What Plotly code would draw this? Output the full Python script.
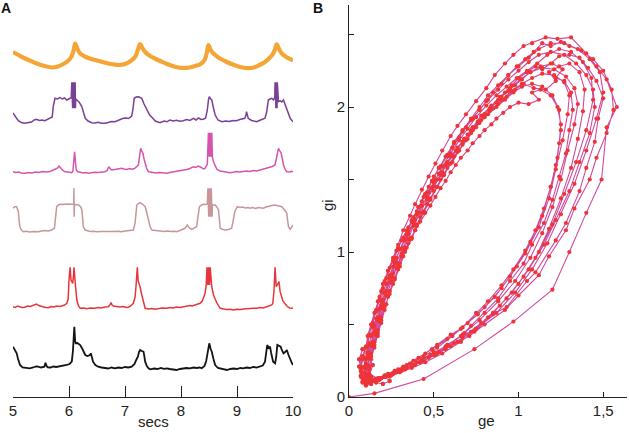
import plotly.graph_objects as go

# ---------------- Panel A: time series (seconds, arbitrary units above baseline) ----------------
t_orange = [5.00, 5.10, 5.20, 5.30, 5.40, 5.50, 5.60, 5.70, 5.80, 5.90, 5.98, 6.04, 6.08, 6.11, 6.15, 6.20, 6.30, 6.40,
            6.50, 6.60, 6.70, 6.80, 6.90, 7.00, 7.10, 7.18, 7.23, 7.27, 7.31, 7.36, 7.45, 7.55, 7.65, 7.75, 7.85, 7.95,
            8.05, 8.15, 8.25, 8.35, 8.42, 8.46, 8.49, 8.53, 8.58, 8.68, 8.80, 8.90, 9.00, 9.10, 9.20, 9.30, 9.40, 9.50,
            9.58, 9.64, 9.68, 9.71, 9.75, 9.80, 9.88, 9.95, 10.0]
v_orange = [17, 14, 11, 8.5, 6, 4, 2.5, 1.5, 2.5, 5, 8, 12, 18, 25.5, 20, 15.5, 12, 10,
            8.5, 7, 5.5, 4.5, 4, 5, 8, 12, 19, 25, 21, 17, 13, 10, 7.5, 5, 3, 1.5,
            1, 1.5, 3, 5, 9, 16, 24, 19, 15.5, 11, 7.5, 5, 3, 1.5, 0.8, 1.5, 4, 7,
            11, 15, 20, 24.7, 20, 15.5, 12, 10, 8.5]

t_purple = [5.00, 5.03, 5.06, 5.10, 5.15, 5.21, 5.27, 5.33, 5.38, 5.42, 5.47, 5.52, 5.57, 5.62, 5.66, 5.70, 5.72, 5.75,
            5.79, 5.84, 5.88, 5.92, 5.96, 6.00, 6.04, 6.05, 6.055, 6.06, 6.065, 6.07, 6.075, 6.08, 6.085, 6.09, 6.095,
            6.10, 6.105, 6.11, 6.115, 6.12, 6.14, 6.18, 6.23, 6.27, 6.29, 6.34, 6.405, 6.46, 6.52, 6.58, 6.64, 6.70,
            6.76, 6.82, 6.88, 6.93, 6.97, 7.02, 7.06, 7.09, 7.12, 7.14, 7.165, 7.20, 7.24, 7.27, 7.30, 7.34, 7.39,
            7.44, 7.48, 7.54, 7.60, 7.625, 7.70, 7.75, 7.80, 7.86, 7.92, 7.98, 8.04, 8.10, 8.16, 8.22, 8.27, 8.31,
            8.36, 8.40, 8.44, 8.47, 8.49, 8.505, 8.53, 8.55, 8.58, 8.61, 8.66, 8.73, 8.80, 8.86, 8.93, 8.99, 9.05,
            9.10, 9.14, 9.16, 9.17, 9.185, 9.20, 9.26, 9.30, 9.35, 9.40, 9.45, 9.50, 9.53, 9.56, 9.59, 9.62, 9.65,
            9.675, 9.68, 9.685, 9.69, 9.695, 9.70, 9.705, 9.71, 9.715, 9.72, 9.74, 9.77, 9.80, 9.83, 9.86, 9.89,
            9.92, 9.95, 9.98, 10.0]
v_purple = [11, 9, 6, 3, 1.5, 0.7, 1.5, 2, 4, 4.7, 3.5, 4, 3.3, 5, 6.5, 7, 18, 25.7,
            25, 26.5, 25, 26, 24, 25.5, 26.3, 41.7, 15.7, 41.7, 15.7, 41.7, 15.7, 41.7, 15.7, 41.7, 15.7,
            41.7, 15.7, 41.7, 15.7, 25, 24, 22, 17.3, 10, 5.7, 3, 1.3, 1, 1.8, 0.7, 0.7, 1.5,
            2.5, 2.3, 3.5, 5, 5.7, 6, 5.5, 6.7, 8, 14, 25.7, 27, 27.3, 26.5, 25.7, 20, 14,
            9, 6.7, 3, 1.8, 1.3, 3, 2.2, 4, 3, 3.8, 2.8, 3.3, 4.5, 3.5, 5.7, 4, 6,
            4.5, 4.7, 6, 14, 24, 27.3, 25, 24, 16, 9, 4, 2.3, 3, 2.5, 3.5, 3.3, 4.5,
            4.8, 5.7, 9, 12.3, 9, 5.7, 3.5, 2.8, 2.3, 3.5, 4.5, 5.7, 12, 24, 25, 25.7, 24,
            27, 41.7, 15.7, 41.7, 15.7, 41.7, 15.7, 41.7, 15.7, 41.7, 22, 23.3, 22, 24, 19, 14,
            9, 5.7, 3.5, 2.3]

t_pink = [5.00, 5.05, 5.10, 5.15, 5.21, 5.28, 5.34, 5.40, 5.46, 5.52, 5.57, 5.62, 5.68, 5.75, 5.80, 5.82, 5.85, 5.87,
          5.92, 5.97, 6.02, 6.05, 6.07, 6.085, 6.10, 6.115, 6.13, 6.155, 6.20, 6.26, 6.30, 6.345, 6.40, 6.46, 6.52,
          6.58, 6.64, 6.68, 6.71, 6.74, 6.76, 6.82, 6.88, 6.94, 6.98, 7.03, 7.08, 7.12, 7.17, 7.21, 7.24, 7.26, 7.28,
          7.30, 7.32, 7.34, 7.36, 7.39, 7.42, 7.48, 7.55, 7.62, 7.68, 7.745, 7.80, 7.86, 7.92, 7.98, 8.04, 8.10,
          8.16, 8.22, 8.26, 8.31, 8.36, 8.40, 8.43, 8.47, 8.49, 8.495, 8.50, 8.505, 8.51, 8.515, 8.52, 8.525, 8.53,
          8.535, 8.54, 8.545, 8.55, 8.555, 8.56, 8.58, 8.61, 8.64, 8.70, 8.76, 8.82, 8.875, 8.93, 8.99, 9.05, 9.11,
          9.17, 9.23, 9.29, 9.35, 9.41, 9.47, 9.53, 9.58, 9.63, 9.68, 9.71, 9.74, 9.765, 9.79, 9.81, 9.83, 9.86,
          9.89, 9.94, 9.97, 10.0]
v_pink = [2.3, 1.5, 2, 1, 0.7, 1.5, 1, 2, 1.5, 2.5, 2.3, 2, 3, 4.7, 6, 8, 6, 4.7,
          2.5, 2, 1.5, 1.3, 3, 12, 22.3, 12, 4, 2.3, 1.5, 1, 1.5, 0.7, 1.2, 1.8, 1.5,
          2, 2.3, 3.5, 7.3, 5, 4, 4.5, 5, 5.7, 5, 4.5, 5.5, 4.7, 5.5, 7, 9, 18, 25.7,
          23, 20.7, 15, 10.7, 5, 2.3, 1.5, 1, 1.5, 1, 0.7, 1.5, 2, 2.5, 2.8, 3.3, 4.5,
          5.5, 7.3, 6.5, 8, 6.5, 5, 5.7, 10, 41.3, 17.3, 41.3, 17.3, 41.3, 17.3, 41.3, 17.3, 41.3,
          17.3, 41.3, 17.3, 41.3, 17.3, 17, 12.3, 8, 4.7, 3, 2.2, 1.5, 1.3, 1.8, 2.5, 2, 2.3,
          3, 2.5, 3.5, 3, 4, 4.5, 5.7, 6.5, 7.5, 9, 16, 25.7, 23, 20.7, 15, 9, 4.5,
          2.3, 2, 2.8, 2.3]

t_rosy = [5.00, 5.03, 5.066, 5.095, 5.11, 5.125, 5.15, 5.18, 5.24, 5.30, 5.36, 5.42, 5.45, 5.51, 5.57, 5.63, 5.69, 5.74,
          5.76, 5.78, 5.81, 5.84, 5.90, 5.96, 6.02, 6.06, 6.085, 6.088, 6.092, 6.096, 6.13, 6.17, 6.21, 6.23, 6.245,
          6.255, 6.29, 6.32, 6.38, 6.44, 6.50, 6.56, 6.64, 6.70, 6.76, 6.82, 6.88, 6.94, 7.00, 7.06, 7.12, 7.15,
          7.18, 7.21, 7.24, 7.27, 7.31, 7.36, 7.39, 7.42, 7.45, 7.48, 7.55, 7.625, 7.70, 7.76, 7.82, 7.88, 7.92,
          7.98, 8.03, 8.07, 8.11, 8.15, 8.19, 8.24, 8.28, 8.30, 8.33, 8.37, 8.40, 8.44, 8.47, 8.48, 8.485, 8.49,
          8.495, 8.50, 8.505, 8.51, 8.515, 8.52, 8.525, 8.53, 8.535, 8.54, 8.545, 8.55, 8.555, 8.56, 8.61, 8.64,
          8.67, 8.685, 8.70, 8.75, 8.79, 8.85, 8.905, 8.93, 8.96, 9.005, 9.05, 9.10, 9.15, 9.20, 9.23, 9.28, 9.33,
          9.38, 9.42, 9.47, 9.52, 9.57, 9.62, 9.68, 9.74, 9.80, 9.85, 9.89, 9.905, 9.92, 9.95, 9.97, 10.0]
v_rosy = [24.7, 26.3, 26.3, 21.3, 12, 6.3, 3, 1.3, 1.8, 1, 1.5, 1.2, 1.3, 2, 2.5, 2, 3, 5,
          15, 26.3, 28, 28.7, 28.5, 29, 28.7, 28.5, 28.7, 44.7, 16.3, 28, 28.5, 28, 26, 23, 14,
          6.3, 3, 2.3, 1.5, 1.8, 1.2, 1.5, 1.3, 1.8, 1.2, 1.5, 1.8, 1.3, 2, 2.5, 2.8, 3,
          10, 28, 29.5, 30.3, 29, 26.3, 20, 13, 6, 3, 2.5, 2.3, 1.5, 2, 1.5, 1.8, 1.3,
          2.5, 3.5, 4.7, 8, 5, 3.7, 5, 6.3, 15, 26.3, 28, 28.7, 28.5, 29, 44.7, 16.3, 44.7,
          16.3, 44.7, 16.3, 44.7, 16.3, 44.7, 16.3, 44.7, 16.3, 44.7, 16.3, 44.7, 16.3, 28, 28, 26,
          23, 14, 4.7, 3.5, 3, 3.5, 4.7, 12, 21.3, 26.3, 25.5, 26, 25, 25.5, 24.7, 25.5, 24.5,
          25.5, 25, 24.7, 26, 27, 27.5, 28, 27, 26.3, 23, 19.7, 12, 6.3, 3.7, 5, 8]

t_red = [5.00, 5.04, 5.08, 5.12, 5.16, 5.21, 5.26, 5.31, 5.36, 5.42, 5.46, 5.50, 5.55, 5.59, 5.63, 5.68, 5.73, 5.78,
         5.83, 5.87, 5.92, 5.96, 5.985, 6.00, 6.02, 6.036, 6.05, 6.066, 6.08, 6.09, 6.107, 6.12, 6.14, 6.17, 6.20,
         6.26, 6.32, 6.38, 6.46, 6.52, 6.58, 6.64, 6.70, 6.73, 6.75, 6.77, 6.79, 6.85, 6.91, 6.97, 7.02, 7.06,
         7.10, 7.15, 7.18, 7.196, 7.22, 7.235, 7.25, 7.27, 7.30, 7.33, 7.36, 7.42, 7.48, 7.54, 7.60, 7.66, 7.745,
         7.80, 7.86, 7.92, 7.98, 8.04, 8.10, 8.16, 8.20, 8.25, 8.30, 8.34, 8.38, 8.43, 8.45, 8.455, 8.46, 8.465,
         8.47, 8.475, 8.48, 8.485, 8.49, 8.495, 8.50, 8.505, 8.51, 8.52, 8.55, 8.58, 8.64, 8.70, 8.76, 8.82, 8.88,
         8.94, 9.00, 9.06, 9.12, 9.18, 9.23, 9.29, 9.35, 9.41, 9.47, 9.52, 9.56, 9.59, 9.62, 9.64, 9.66, 9.68,
         9.70, 9.73, 9.75, 9.77, 9.82, 9.89, 9.94, 10.0]
v_red = [4.3, 3.5, 5, 4, 3.5, 3.7, 5, 4.5, 6, 7, 5.5, 4.5, 4, 3.5, 3.3, 4.5, 4, 5,
         4.5, 5, 6, 7.7, 12, 31, 43.7, 31, 29, 27.7, 35, 43.7, 31, 22, 11, 5, 2.7,
         3, 2.2, 3, 2.7, 3.5, 3, 4, 4.3, 6, 8.3, 6, 5, 4.5, 4, 4.5, 3.5, 3.7,
         5, 7.7, 14, 24.3, 43.7, 30, 27.7, 24, 16, 8, 2.7, 2, 2.5, 1.7, 2.5, 3, 2.7,
         3.5, 3, 4, 3.5, 4.3, 4.5, 5.5, 5, 6, 7, 7.7, 10, 17.7, 26, 43.7, 26, 43.7,
         26, 43.7, 26, 43.7, 26, 43.7, 26, 43.7, 26, 43.7, 24, 16, 8, 2.7, 2, 1.5, 1.8, 1, 1.8,
         1.5, 2, 2.5, 2.2, 2.8, 2.7, 3.5, 3, 4, 4.3, 5, 6, 7.7, 20, 43.7, 24.3, 27,
         29.3, 19.3, 10, 5, 3, 2.7, 3.5, 3.7]

t_black = [5.00, 5.03, 5.066, 5.09, 5.125, 5.17, 5.22, 5.30, 5.36, 5.41, 5.45, 5.50, 5.56, 5.58, 5.60, 5.62, 5.67, 5.72,
           5.77, 5.81, 5.86, 5.91, 5.96, 6.01, 6.05, 6.07, 6.08, 6.095, 6.11, 6.12, 6.15, 6.20, 6.24, 6.27, 6.29,
           6.33, 6.375, 6.39, 6.41, 6.43, 6.47, 6.52, 6.58, 6.64, 6.70, 6.76, 6.82, 6.88, 6.94, 7.00, 7.06, 7.12,
           7.17, 7.20, 7.23, 7.25, 7.27, 7.30, 7.33, 7.345, 7.36, 7.39, 7.42, 7.45, 7.52, 7.58, 7.64, 7.70, 7.745,
           7.80, 7.86, 7.92, 7.98, 8.04, 8.10, 8.16, 8.22, 8.28, 8.33, 8.37, 8.42, 8.45, 8.47, 8.49, 8.505, 8.53,
           8.55, 8.58, 8.61, 8.66, 8.72, 8.77, 8.82, 8.88, 8.94, 9.00, 9.06, 9.11, 9.17, 9.23, 9.29, 9.35, 9.41,
           9.46, 9.50, 9.52, 9.54, 9.565, 9.59, 9.61, 9.63, 9.645, 9.68, 9.70, 9.72, 9.75, 9.78, 9.80, 9.83, 9.86,
           9.89, 9.92, 9.95, 9.98, 10.0]
v_black = [24.3, 21, 17.7, 12, 6, 3.5, 3, 2.7, 3.5, 4.5, 4.3, 3.5, 4.3, 8.3, 5, 3.7, 3.5, 4.5,
           4, 4.3, 5, 5.5, 6, 7, 9.3, 20, 27.7, 44.3, 30, 27.7, 28, 26, 22, 17, 16,
           15, 16, 17.7, 13, 9.3, 6, 4.3, 3.5, 3, 2.5, 3.5, 2.7, 3.5, 3, 4, 3.5, 4.3,
           7, 11, 14.3, 19, 21, 20, 19.3, 15, 9.3, 5, 2.7, 1.7, 2.5, 2, 3, 2.2, 2.7,
           2, 1.5, 1, 2, 2.5, 3, 2.7, 3.5, 3, 3.5, 2.7, 5, 10, 16, 24, 27.7, 22,
           19.3, 12, 6, 3, 2, 1.5, 1, 2, 2.5, 2, 3, 2.7, 3.5, 3, 4, 3.5, 4.3,
           5.5, 9.3, 18, 26, 23, 24.3, 18, 10, 9.3, 7.7, 14, 26, 25, 24.3, 21, 17.7, 19,
           21, 16, 11, 8, 6]

time_ticks = [5, 6, 7, 8, 9, 10]

# ---------------- Panel B: phase plot (ge, gi), one list pair per cycle ----------------
ge_c1 = [0.00, 0.15, 0.44, 0.74, 0.97, 1.20, 1.30, 1.40, 1.49, 1.52, 1.58, 1.52, 1.46, 1.40, 1.31, 1.23, 1.16, 1.08,
         1.03, 0.97, 0.92, 0.86, 0.81, 0.75, 0.69, 0.64, 0.60, 0.55, 0.51, 0.47, 0.43, 0.39, 0.36, 0.32, 0.29, 0.26,
         0.23, 0.20, 0.18, 0.16, 0.14, 0.12, 0.10, 0.08, 0.07, 0.07, 0.08, 0.10]
gi_c1 = [0.00, 0.025, 0.124, 0.33, 0.52, 0.74, 1.00, 1.27, 1.50, 1.86, 2.00, 2.19, 2.28, 2.37, 2.48, 2.47, 2.48, 2.44,
         2.42, 2.36, 2.30, 2.22, 2.13, 2.04, 1.95, 1.87, 1.80, 1.70, 1.61, 1.52, 1.43, 1.33, 1.25, 1.15, 1.05, 0.96,
         0.87, 0.78, 0.69, 0.60, 0.51, 0.43, 0.35, 0.28, 0.21, 0.15, 0.11, 0.09]

ge_rest = [0.09, 0.07, 0.06, 0.08, 0.11, 0.14, 0.12, 0.09, 0.07, 0.06, 0.08, 0.10, 0.13, 0.16, 0.20, 0.24, 0.21, 0.17,
           0.13, 0.10, 0.08]
gi_rest = [0.12, 0.18, 0.26, 0.33, 0.30, 0.22, 0.15, 0.10, 0.14, 0.21, 0.28, 0.20, 0.14, 0.10, 0.09, 0.11, 0.14, 0.12,
           0.09, 0.08, 0.10]

ge_c2 = [0.13, 0.18, 0.24, 0.30, 0.37, 0.45, 0.55, 0.66, 0.75, 0.85, 0.96, 1.06, 1.15, 1.22, 1.30, 1.36, 1.42, 1.45,
         1.44, 1.40, 1.34, 1.27, 1.19, 1.12, 1.06, 1.00, 0.94, 0.88, 0.82, 0.77, 0.72, 0.67, 0.62, 0.57, 0.53, 0.49,
         0.45, 0.41, 0.37, 0.34, 0.30, 0.27, 0.24, 0.21, 0.19, 0.17, 0.15, 0.13, 0.11, 0.10, 0.09, 0.10, 0.12]
gi_c2 = [0.10, 0.12, 0.14, 0.17, 0.20, 0.24, 0.30, 0.38, 0.47, 0.58, 0.72, 0.88, 1.05, 1.22, 1.42, 1.62, 1.82, 2.00,
         2.12, 2.22, 2.30, 2.36, 2.38, 2.36, 2.31, 2.25, 2.19, 2.12, 2.05, 1.98, 1.91, 1.83, 1.75, 1.66, 1.58, 1.49,
         1.40, 1.31, 1.21, 1.12, 1.02, 0.92, 0.82, 0.72, 0.63, 0.54, 0.45, 0.37, 0.29, 0.22, 0.16, 0.12, 0.10]

ge_c3 = [0.16, 0.21, 0.27, 0.33, 0.40, 0.48, 0.57, 0.67, 0.77, 0.88, 0.98, 1.07, 1.14, 1.20, 1.25, 1.29, 1.33, 1.35,
         1.33, 1.28, 1.21, 1.14, 1.07, 1.01, 0.95, 0.89, 0.84, 0.78, 0.73, 0.68, 0.63, 0.58, 0.54, 0.50, 0.46, 0.42,
         0.38, 0.35, 0.31, 0.28, 0.25, 0.22, 0.20, 0.18, 0.16, 0.14, 0.12, 0.11, 0.11, 0.13]
gi_c3 = [0.12, 0.14, 0.17, 0.20, 0.24, 0.29, 0.35, 0.43, 0.53, 0.66, 0.80, 0.96, 1.13, 1.31, 1.50, 1.70, 1.88, 2.02,
         2.13, 2.21, 2.26, 2.27, 2.24, 2.19, 2.13, 2.07, 2.01, 1.94, 1.86, 1.78, 1.70, 1.62, 1.53, 1.45, 1.36, 1.27,
         1.18, 1.09, 0.99, 0.89, 0.80, 0.70, 0.61, 0.52, 0.43, 0.35, 0.27, 0.20, 0.14, 0.11]

ge_c4 = [0.17, 0.23, 0.29, 0.36, 0.44, 0.52, 0.61, 0.70, 0.80, 0.90, 0.99, 1.07, 1.14, 1.19, 1.23, 1.25, 1.24, 1.20,
         1.14, 1.08, 1.02, 0.97, 0.92, 0.87, 0.82, 0.77, 0.72, 0.67, 0.62, 0.58, 0.54, 0.50, 0.46, 0.42, 0.39, 0.35,
         0.32, 0.29, 0.26, 0.23, 0.21, 0.19, 0.17, 0.15, 0.13, 0.12, 0.12, 0.14]
gi_c4 = [0.13, 0.16, 0.19, 0.23, 0.28, 0.34, 0.42, 0.51, 0.62, 0.75, 0.90, 1.07, 1.25, 1.45, 1.65, 1.84, 1.98, 2.08,
         2.14, 2.16, 2.14, 2.10, 2.05, 2.00, 1.95, 1.89, 1.82, 1.74, 1.66, 1.58, 1.50, 1.42, 1.33, 1.24, 1.15, 1.06,
         0.97, 0.88, 0.78, 0.69, 0.60, 0.51, 0.42, 0.34, 0.26, 0.19, 0.13, 0.11]

ge_c5 = [0.18, 0.24, 0.31, 0.39, 0.47, 0.57, 0.67, 0.78, 0.89, 1.00, 1.10, 1.18, 1.25, 1.31, 1.35, 1.38, 1.39, 1.36,
         1.30, 1.24, 1.18, 1.22, 1.16, 1.09, 1.03, 0.98, 0.93, 0.88, 0.83, 0.78, 0.73, 0.69, 0.64, 0.60, 0.56, 0.52,
         0.48, 0.44, 0.40, 0.37, 0.33, 0.30, 0.27, 0.24, 0.22, 0.19, 0.17, 0.15, 0.13, 0.11, 0.10, 0.11, 0.13]
gi_c5 = [0.12, 0.15, 0.18, 0.22, 0.27, 0.33, 0.41, 0.51, 0.63, 0.78, 0.96, 1.16, 1.37, 1.58, 1.78, 1.97, 2.12, 2.24,
         2.30, 2.28, 2.24, 2.18, 2.12, 2.13, 2.16, 2.12, 2.07, 2.02, 1.97, 1.91, 1.84, 1.77, 1.69, 1.61, 1.53, 1.45,
         1.37, 1.28, 1.19, 1.10, 1.01, 0.92, 0.82, 0.73, 0.64, 0.55, 0.46, 0.38, 0.30, 0.22, 0.16, 0.12, 0.10]

ge_c6 = [0.18, 0.25, 0.33, 0.42, 0.52, 0.62, 0.72, 0.82, 0.93, 1.03, 1.12, 1.20, 1.27, 1.34, 1.40, 1.44, 1.43, 1.38,
         1.31, 1.24, 1.17, 1.11, 1.05, 0.99, 0.93, 0.87, 0.81, 0.75, 0.70, 0.65, 0.60, 0.55, 0.51, 0.47, 0.43, 0.39,
         0.35, 0.32, 0.28, 0.25, 0.22, 0.20, 0.18, 0.16, 0.14, 0.12, 0.10, 0.09, 0.10, 0.12]
gi_c6 = [0.12, 0.15, 0.19, 0.24, 0.30, 0.37, 0.45, 0.55, 0.68, 0.83, 1.00, 1.19, 1.40, 1.62, 1.84, 2.05, 2.20, 2.31,
         2.38, 2.40, 2.36, 2.30, 2.25, 2.20, 2.14, 2.08, 2.01, 1.93, 1.85, 1.77, 1.68, 1.59, 1.50, 1.41, 1.32, 1.22,
         1.12, 1.03, 0.93, 0.83, 0.73, 0.64, 0.55, 0.46, 0.38, 0.30, 0.23, 0.17, 0.12, 0.10]

ge_c7 = [0.16, 0.21, 0.27, 0.34, 0.41, 0.49, 0.58, 0.67, 0.76, 0.86, 0.95, 1.04, 1.12, 1.18, 1.22, 1.26, 1.29, 1.30,
         1.27, 1.21, 1.14, 1.08, 1.02, 0.96, 0.90, 0.85, 0.80, 0.75, 0.70, 0.65, 0.61, 0.56, 0.52, 0.48, 0.44, 0.40,
         0.37, 0.33, 0.30, 0.27, 0.24, 0.21, 0.19, 0.17, 0.15, 0.13, 0.12, 0.12, 0.13]
gi_c7 = [0.12, 0.15, 0.18, 0.22, 0.27, 0.33, 0.40, 0.48, 0.57, 0.69, 0.83, 0.99, 1.17, 1.37, 1.57, 1.77, 1.95, 2.08,
         2.17, 2.22, 2.23, 2.20, 2.16, 2.11, 2.05, 1.99, 1.93, 1.86, 1.78, 1.70, 1.62, 1.54, 1.45, 1.36, 1.27, 1.18,
         1.09, 1.00, 0.90, 0.81, 0.71, 0.62, 0.53, 0.44, 0.36, 0.28, 0.21, 0.15, 0.11]

ge_c8 = [0.19, 0.26, 0.34, 0.43, 0.53, 0.64, 0.75, 0.87, 0.98, 1.08, 1.17, 1.25, 1.33, 1.40, 1.46, 1.50, 1.48, 1.42,
         1.35, 1.27, 1.19, 1.12, 1.06, 1.00, 0.94, 0.88, 0.82, 0.77, 0.72, 0.67, 0.62, 0.58, 0.53, 0.49, 0.45, 0.41,
         0.37, 0.34, 0.30, 0.27, 0.24, 0.21, 0.19, 0.17, 0.15, 0.13, 0.11, 0.10, 0.10, 0.12]
gi_c8 = [0.13, 0.16, 0.20, 0.25, 0.31, 0.38, 0.47, 0.58, 0.72, 0.88, 1.06, 1.26, 1.47, 1.70, 1.92, 2.10, 2.24, 2.33,
         2.40, 2.44, 2.44, 2.40, 2.34, 2.28, 2.22, 2.15, 2.08, 2.00, 1.92, 1.84, 1.76, 1.67, 1.58, 1.49, 1.40, 1.31,
         1.21, 1.12, 1.02, 0.92, 0.82, 0.72, 0.62, 0.53, 0.44, 0.36, 0.28, 0.21, 0.15, 0.11]

ge_c9 = [0.12, 0.15, 0.19, 0.23, 0.28, 0.33, 0.38, 0.44, 0.50, 0.58, 0.66, 0.72, 0.80, 0.88, 0.95, 1.03, 1.08, 1.15,
         1.20, 1.24, 1.28, 1.30, 1.32, 1.31, 1.27, 1.22, 1.26, 1.20, 1.13, 1.07, 1.02, 0.98, 0.94, 0.90, 0.87, 0.83,
         0.80, 0.76, 0.73, 0.70, 0.67, 0.64, 0.61, 0.58, 0.55, 0.52, 0.49, 0.46, 0.43, 0.40, 0.38, 0.35, 0.33, 0.30,
         0.28, 0.26, 0.24, 0.22, 0.20, 0.19, 0.17, 0.16, 0.14, 0.13, 0.12, 0.11, 0.10, 0.09, 0.09, 0.10]
gi_c9 = [0.11, 0.12, 0.13, 0.15, 0.17, 0.19, 0.22, 0.25, 0.29, 0.36, 0.42, 0.49, 0.58, 0.68, 0.80, 0.92, 1.05, 1.20,
         1.36, 1.52, 1.68, 1.84, 1.98, 2.10, 2.18, 2.20, 2.26, 2.30, 2.28, 2.24, 2.19, 2.15, 2.11, 2.07, 2.03, 1.99,
         1.95, 1.90, 1.86, 1.81, 1.76, 1.71, 1.66, 1.61, 1.55, 1.50, 1.44, 1.38, 1.32, 1.26, 1.20, 1.14, 1.08, 1.02,
         0.96, 0.90, 0.84, 0.78, 0.72, 0.66, 0.60, 0.54, 0.48, 0.42, 0.37, 0.31, 0.26, 0.21, 0.16, 0.12]

ge_c10 = [0.10, 0.13, 0.17, 0.21, 0.26, 0.31, 0.37, 0.43, 0.50, 0.57, 0.68, 0.74, 0.85, 0.93, 1.05, 1.10, 1.22, 1.28,
          1.36, 1.40, 1.45, 1.47, 1.50, 1.46, 1.41, 1.36, 1.30, 1.24, 1.19, 1.14, 1.10, 1.05, 1.00, 0.96, 0.92, 0.88,
          0.84, 0.80, 0.76, 0.72, 0.68, 0.64, 0.60, 0.57, 0.53, 0.50, 0.46, 0.43, 0.40, 0.37, 0.34, 0.31, 0.28, 0.26,
          0.23, 0.21, 0.19, 0.17, 0.15, 0.13, 0.11, 0.10, 0.08, 0.07, 0.08]
gi_c10 = [0.09, 0.10, 0.12, 0.14, 0.16, 0.19, 0.22, 0.26, 0.31, 0.34, 0.44, 0.45, 0.57, 0.62, 0.80, 0.86, 1.08, 1.20,
          1.42, 1.58, 1.76, 1.92, 2.06, 2.18, 2.27, 2.34, 2.36, 2.35, 2.30, 2.26, 2.28, 2.24, 2.20, 2.15, 2.10, 2.05,
          2.00, 1.95, 1.89, 1.84, 1.78, 1.72, 1.66, 1.60, 1.54, 1.48, 1.41, 1.35, 1.28, 1.22, 1.15, 1.08, 1.01, 0.94,
          0.87, 0.80, 0.73, 0.66, 0.58, 0.50, 0.42, 0.34, 0.26, 0.19, 0.13]

ge_c11 = [0.11, 0.14, 0.18, 0.22, 0.27, 0.32, 0.38, 0.45, 0.52, 0.60, 0.66, 0.75, 0.82, 0.90, 0.97, 1.04, 1.10, 1.15,
          1.19, 1.22, 1.24, 1.25, 1.23, 1.19, 1.13, 1.08, 1.12, 1.06, 1.00, 0.95, 0.91, 0.87, 0.84, 0.80, 0.77, 0.73,
          0.70, 0.66, 0.63, 0.60, 0.57, 0.54, 0.51, 0.48, 0.45, 0.42, 0.39, 0.36, 0.34, 0.31, 0.29, 0.26, 0.24, 0.22,
          0.20, 0.18, 0.17, 0.15, 0.14, 0.13, 0.12, 0.11, 0.12]
gi_c11 = [0.10, 0.11, 0.13, 0.15, 0.18, 0.21, 0.25, 0.30, 0.36, 0.43, 0.47, 0.58, 0.66, 0.77, 0.88, 1.01, 1.15, 1.30,
          1.45, 1.60, 1.75, 1.88, 2.00, 2.08, 2.12, 2.10, 2.05, 2.02, 2.03, 2.00, 1.96, 1.92, 1.88, 1.84, 1.80, 1.75,
          1.70, 1.65, 1.60, 1.55, 1.49, 1.44, 1.38, 1.32, 1.27, 1.21, 1.15, 1.09, 1.03, 0.97, 0.91, 0.85, 0.79, 0.73,
          0.67, 0.61, 0.55, 0.49, 0.43, 0.36, 0.29, 0.22, 0.16]

ge_c12 = [0.12, 0.16, 0.21, 0.27, 0.34, 0.42, 0.51, 0.60, 0.71, 0.80, 0.92, 1.00, 1.12, 1.18, 1.28, 1.33, 1.42, 1.46,
          1.52, 1.56, 1.55, 1.50, 1.44, 1.37, 1.30, 1.25, 1.19, 1.14, 1.09, 1.04, 0.99, 0.94, 0.90, 0.85, 0.81, 0.77,
          0.73, 0.69, 0.65, 0.61, 0.58, 0.54, 0.50, 0.47, 0.44, 0.41, 0.38, 0.35, 0.32, 0.29, 0.27, 0.24, 0.22, 0.20,
          0.18, 0.16, 0.14, 0.12, 0.11, 0.10, 0.09, 0.10]
gi_c12 = [0.11, 0.12, 0.14, 0.17, 0.20, 0.24, 0.29, 0.35, 0.42, 0.50, 0.60, 0.70, 0.84, 0.97, 1.15, 1.30, 1.50, 1.65,
          1.82, 1.98, 2.12, 2.25, 2.33, 2.39, 2.42, 2.45, 2.42, 2.44, 2.38, 2.33, 2.28, 2.22, 2.16, 2.10, 2.04, 1.98,
          1.92, 1.86, 1.79, 1.72, 1.66, 1.59, 1.52, 1.45, 1.38, 1.31, 1.24, 1.17, 1.10, 1.03, 0.96, 0.89, 0.82, 0.75,
          0.67, 0.59, 0.51, 0.43, 0.35, 0.27, 0.20, 0.14]

ge_ticks = [0, 0.5, 1, 1.5]
ge_ticktext = ["0", "0,5", "1", "1,5"]
gi_ticks = [0, 0.5, 1, 1.5, 2, 2.5]
gi_ticktext = ["0", "", "1", "", "2", ""]

# ---------------- layout geometry ----------------
W, H = 629, 433
MT, MB = 5, 36
PH = H - MT - MB          # plot-area height in px


def fy(py):               # pixel row -> paper fraction
    return (397 - py) / PH


FONT = "Liberation Sans, Arial, Helvetica, sans-serif"

traces_a = [
    (t_orange, v_orange, "#f5a436", 4.2, 69, -5, 30, "spline"),
    (t_purple, v_purple, "#7a3f97", 1.5, 124, -4, 46, "linear"),
    (t_pink, v_pink, "#d655aa", 1.5, 174, -4, 46, "linear"),
    (t_rosy, v_rosy, "#c8969a", 1.5, 233, -4, 48, "linear"),
    (t_red, v_red, "#e8353a", 1.5, 311, -4, 48, "linear"),
    (t_black, v_black, "#141414", 1.8, 371, -4, 48, "linear"),
]

fig = go.Figure()
layout_axes = {}
for i, (t, v, col, lw, base, lo, hi, shape) in enumerate(traces_a, start=1):
    yname = "y" if i == 1 else f"y{i}"
    fig.add_trace(go.Scatter(x=t, y=v, mode="lines", line=dict(color=col, width=lw, shape=shape),
                             xaxis="x", yaxis=yname, hoverinfo="skip", showlegend=False))
    key = "yaxis" if i == 1 else f"yaxis{i}"
    layout_axes[key] = dict(domain=[fy(base - lo), fy(base - hi)], range=[lo, hi], visible=False,
                            anchor="x", fixedrange=True, automargin=False)

ge_all = (ge_c1 + ge_rest + ge_c2 + ge_c9 + ge_c3 + ge_c10 + ge_c4 + ge_c11 + ge_c5 + ge_c12 + ge_c6
          + ge_rest + ge_c7 + ge_c8)
gi_all = (gi_c1 + gi_rest + gi_c2 + gi_c9 + gi_c3 + gi_c10 + gi_c4 + gi_c11 + gi_c5 + gi_c12 + gi_c6
          + gi_rest + gi_c7 + gi_c8)
fig.add_trace(go.Scatter(x=ge_all, y=gi_all, mode="lines+markers",
                         line=dict(color="#cf4a9e", width=1.1),
                         marker=dict(color="#ee3438", size=4.2, line=dict(width=0)),
                         xaxis="x2", yaxis="y7", hoverinfo="skip", showlegend=False))

layout_axes["yaxis7"] = dict(domain=[0, 1], range=[0, 392 / 145], anchor="x2", showgrid=False, zeroline=False,
                             showline=True, linecolor="#222", linewidth=1, ticks="inside", ticklen=5,
                             tickcolor="#222", tickvals=gi_ticks, ticktext=gi_ticktext, automargin=False,
                             tickfont=dict(family=FONT, size=15, color="#222"))

fig.update_layout(
    width=W, height=H,
    margin=dict(l=0, r=0, t=MT, b=MB, pad=0),
    paper_bgcolor="white", plot_bgcolor="white",
    font=dict(family=FONT, color="#222"),
    xaxis=dict(domain=[13 / W, 293 / W], range=[5, 10], anchor="free", position=0, automargin=False,
               showgrid=False, zeroline=False, showline=True, linecolor="#222", linewidth=1,
               ticks="inside", ticklen=11, tickcolor="#222", tickvals=time_ticks,
               tickfont=dict(family=FONT, size=15, color="#222")),
    xaxis2=dict(domain=[349 / W, 627 / W], range=[0, 278 / 169.5], anchor="y7", automargin=False,
                showgrid=False, zeroline=False, showline=True, linecolor="#222", linewidth=1,
                ticks="inside", ticklen=5, tickcolor="#222", tickvals=ge_ticks, ticktext=ge_ticktext,
                tickfont=dict(family=FONT, size=15, color="#222")),
    **layout_axes,
    annotations=[
        dict(text="<b>A</b>", x=6 / W, y=fy(8), xref="paper", yref="paper", showarrow=False,
             xanchor="center", yanchor="middle", font=dict(family=FONT, size=14, color="#111")),
        dict(text="<b>B</b>", x=318 / W, y=fy(8), xref="paper", yref="paper", showarrow=False,
             xanchor="center", yanchor="middle", font=dict(family=FONT, size=14, color="#111")),
        dict(text="secs", x=153 / W, y=fy(421), xref="paper", yref="paper", showarrow=False,
             xanchor="center", yanchor="middle", font=dict(family=FONT, size=15, color="#222")),
        dict(text="ge", x=486 / W, y=fy(420), xref="paper", yref="paper", showarrow=False,
             xanchor="center", yanchor="middle", font=dict(family=FONT, size=15, color="#222")),
        dict(text="gi", x=327 / W, y=fy(205), xref="paper", yref="paper", showarrow=False, textangle=-90,
             xanchor="center", yanchor="middle", font=dict(family=FONT, size=15, color="#222")),
    ],
)

fig.write_html("out.html", config={"displayModeBar": False, "staticPlot": True},
               post_script="document.body.style.margin='0px';document.body.style.overflow='hidden';")
